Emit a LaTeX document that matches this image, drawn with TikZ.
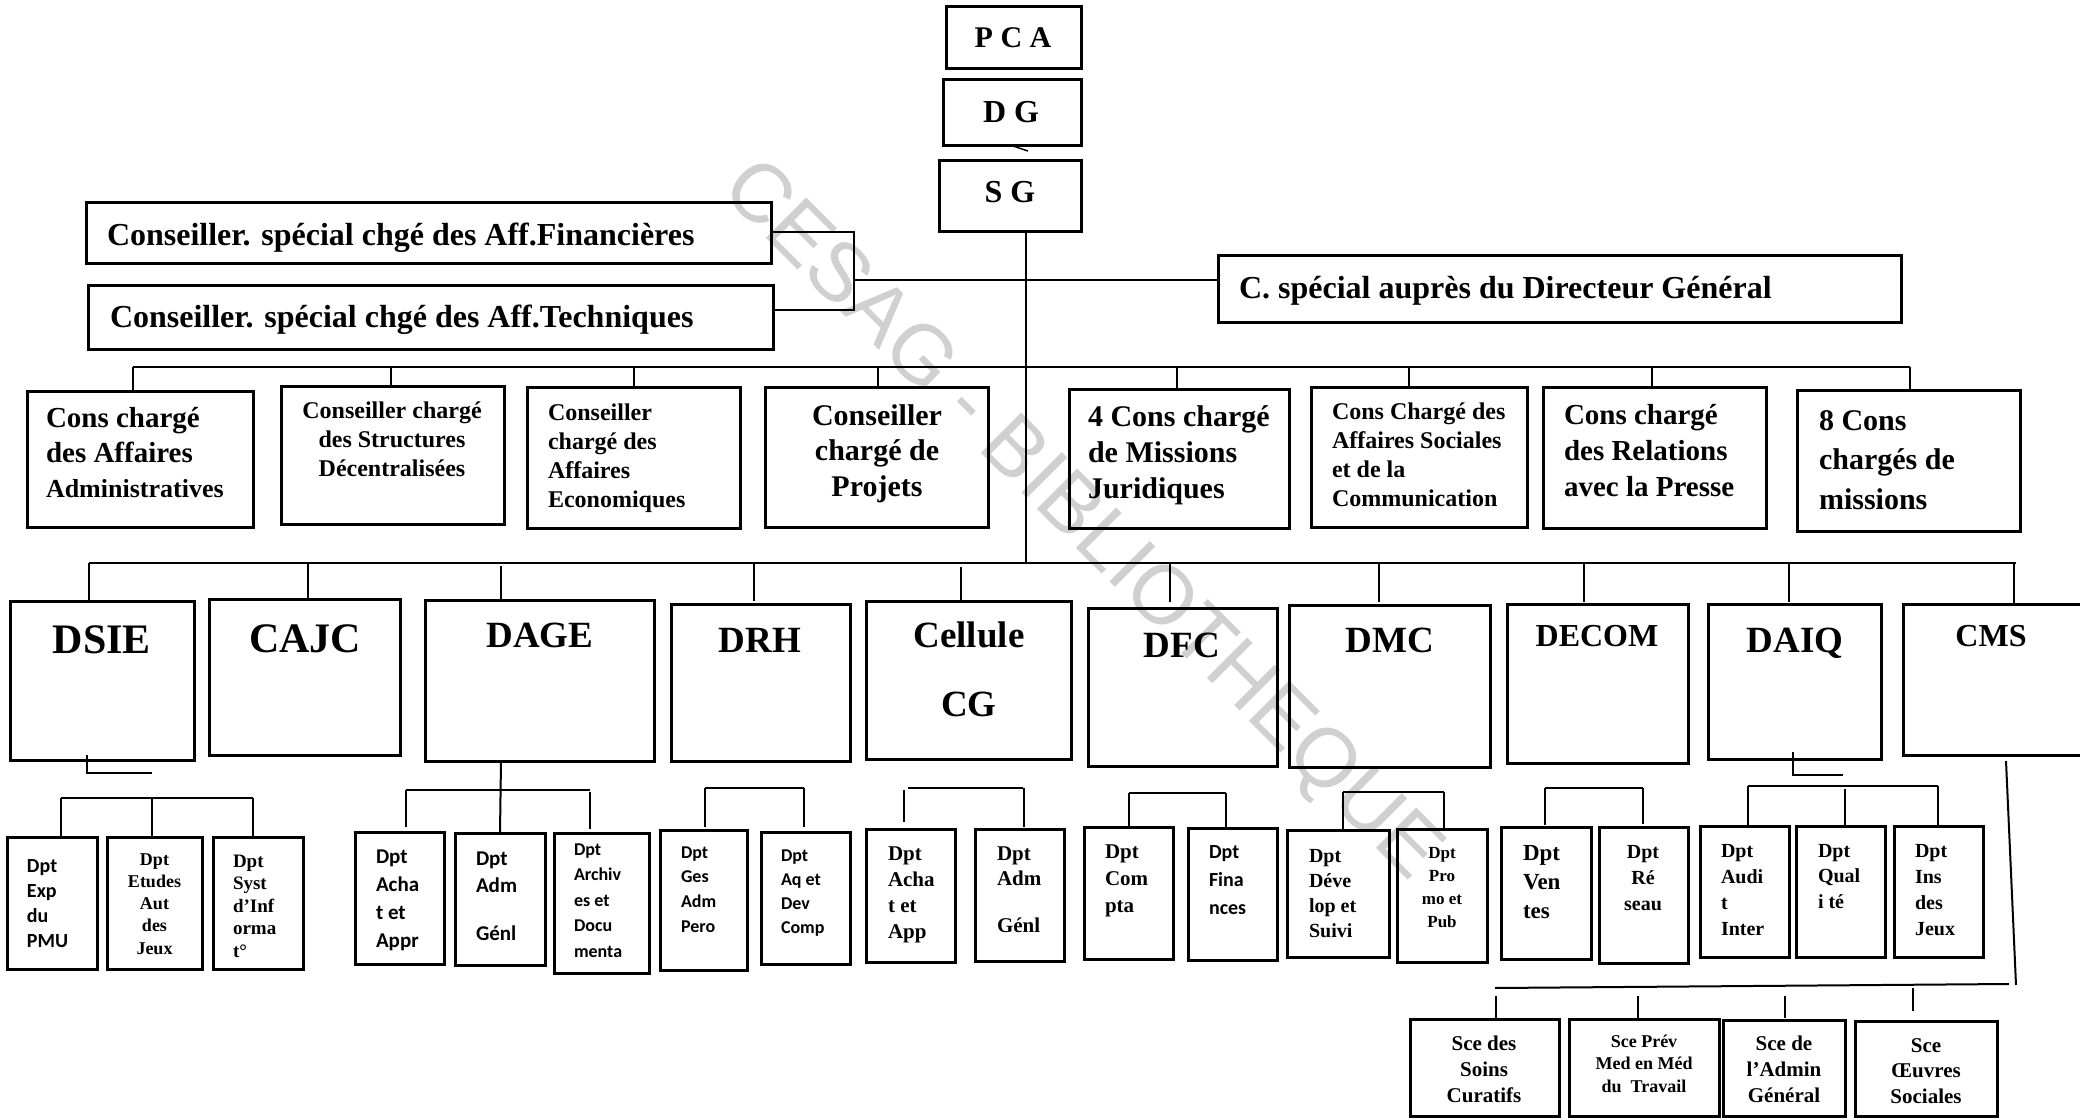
\documentclass[tikz,border=0pt]{standalone}
\usepackage{fontspec}
\setmainfont{Liberation Serif}
\newfontfamily\calib{Carlito}
\newfontfamily\wmfont{Liberation Sans}
\definecolor{wmgray}{RGB}{208,208,208}
\tikzset{
  box/.style={draw, line width=3pt, inner sep=0pt, outer sep=0pt},
  link/.style={line width=2pt},
  txt/.style={inner sep=0pt, outer sep=0pt, anchor=base west, font=\bfseries},
  sans/.style={font=\calib\bfseries},
}
% box: name, x1, y1, x2, y2 (y grows downwards)
\newcommand\bx[5]{\node[box, minimum width={(#4-#2)*1pt}, minimum height={(#5-#3)*1pt}] (#1) at ({(#2+#4)/2},{(#3+#5)/2}) {};}
% text block: [options]{name}{x}{first baseline}{size}{line pitch}{column}{lines}
\newcommand\tx[8][]{\node[txt,#1] (#2) at (#3,#4) {\fontsize{#5}{#6}\selectfont\begin{tabular}[t]{@{}#7@{}}#8\end{tabular}};}
% vertical drop from a named point onto the top of a box
\newcommand\drop[4][]{\coordinate (#2) at #3; \draw[link,#1] (#2) -- (#2 |- #4.north);}
\begin{document}
\begin{tikzpicture}[x=1pt,y=-1pt]
\useasboundingbox[fill=white] (0,0) rectangle (2080,1118);

% watermark
\node[rotate=-45, text=wmgray, inner sep=0pt, font={\wmfont\fontsize{83}{90}\selectfont}] (wm) at (1080,522) {CESAG - BIBLIOTHEQUE};

% ---- top of the hierarchy
\bx{pca}{946}{7}{1081}{69}
\bx{dg}{943}{80}{1081}{146}
\bx{sg}{939}{161}{1081}{232}
\tx[anchor=base]{tpca}{1013}{48}{30}{36}{c}{P C A}
\tx[anchor=base]{tdg}{1011}{123}{32}{38}{c}{D G}
\tx[anchor=base]{tsg}{1010}{203}{32}{38}{c}{S G}
\draw[line width=1.5pt] ([xshift=1pt]dg.south) -- ++(15,5);

\coordinate (spineTop) at (1026,232);
\coordinate (spineBot) at (1026,563);
\draw[link] (spineTop) -- (spineBot);

% ---- special advisers
\bx{cf}{86}{203}{771}{263}
\bx{ct}{88}{285}{773}{349}
\bx{cdg}{1218}{255}{1901}{322}
\tx{tcf}{107}{245}{32}{38}{l}{Conseiller. spécial chgé des Aff.Financières}
\tx{tct}{110}{327}{32}{38}{l}{Conseiller. spécial chgé des Aff.Techniques}
\tx{tcdg}{1239}{298}{32}{38}{l}{C. spécial auprès du Directeur Général}
\coordinate (brkA) at (773,232);
\coordinate (brkB) at (773,310);
\coordinate (brk) at (854,280);
\draw[link] (brkA) -| (brk) |- (brkB);
\draw[link] (brk) -- (brk -| cdg.west);

% ---- advisers row
\bx{c1}{27}{391}{253}{527}
\bx{c2}{281}{386}{504}{524}
\bx{c3}{527}{387}{740}{528}
\bx{c4}{765}{387}{988}{527}
\bx{c5}{1069}{389}{1289}{528}
\bx{c6}{1311}{387}{1527}{527}
\bx{c7}{1543}{387}{1766}{528}
\bx{c8}{1797}{390}{2020}{531}
\coordinate (cbusL) at (133,367);
\coordinate (cbusR) at (1910,367);
\draw[link] (cbusL) -- (cbusR);
\drop{c1in}{(133,367)}{c1}
\drop{c2in}{(391,367)}{c2}
\drop{c3in}{(634,367)}{c3}
\drop{c4in}{(878,367)}{c4}
\drop{c5in}{(1177,367)}{c5}
\drop{c6in}{(1409,367)}{c6}
\drop{c7in}{(1652,367)}{c7}
\drop{c8in}{(1910,367)}{c8}
\tx{tc1}{46}{427}{29}{35}{l}{Cons chargé\\des Affaires\\\fontsize{26}{35}\selectfont Administratives}
\tx[anchor=base]{tc2}{392}{418}{24}{29}{c}{Conseiller chargé\\des Structures\\Décentralisées}
\tx{tc3}{548}{420}{24}{29.3}{l}{Conseiller\\chargé des\\Affaires\\Economiques}
\tx[anchor=base]{tc4}{877}{425}{30}{35.5}{c}{Conseiller\\chargé de\\Projets}
\tx{tc5}{1088}{426}{30}{36}{l}{4 Cons chargé\\de Missions\\Juridiques}
\tx{tc6}{1332}{419}{24}{29.3}{l}{Cons Chargé des\\Affaires Sociales\\et de la\\Communication}
\tx{tc7}{1564}{424}{29}{36}{l}{Cons chargé\\des Relations\\avec la Presse}
\tx{tc8}{1819}{430}{30}{39.5}{l}{8 Cons\\chargés de\\missions}

% ---- directorates row
\bx{dsie}{10}{601}{194}{760}
\bx{cajc}{209}{599}{400}{755}
\bx{dage}{425}{600}{654}{761}
\bx{drh}{671}{604}{850}{761}
\bx{ccg}{866}{601}{1071}{759}
\bx{dfc}{1088}{608}{1277}{766}
\bx{dmc}{1289}{605}{1490}{767}
\bx{decom}{1507}{604}{1688}{763}
\bx{daiq}{1708}{604}{1881}{759}
\bx{cms}{1903}{604}{2084}{755}
\coordinate (dbusL) at (89,563);
\coordinate (dbusR) at (2016,563);
\draw[link] (dbusL) -- (dbusR);
\drop{dsiein}{(89,563)}{dsie}
\drop{cajcin}{(308,563)}{cajc}
\drop{dagein}{(501,566)}{dage}
\drop[shorten >=3pt]{drhin}{(754,563)}{drh}
\drop{ccgin}{(961,567)}{ccg}
\drop[shorten >=6pt]{dfcin}{(1170,563)}{dfc}
\drop[shorten >=3pt]{dmcin}{(1379,563)}{dmc}
\drop[shorten >=2pt]{decomin}{(1584,563)}{decom}
\drop[shorten >=2pt]{daiqin}{(1789,563)}{daiq}
\drop{cmsin}{(2014,563)}{cms}
\tx[anchor=base]{tdsie}{102}{653}{42}{50}{c}{DSIE}
\tx[anchor=base]{tcajc}{305}{652}{42}{50}{c}{CAJC}
\tx[anchor=base]{tdage}{540}{647}{37}{44}{c}{DAGE}
\tx[anchor=base]{tdrh}{760}{652}{37}{44}{c}{DRH}
\tx[anchor=base]{tccg}{969}{647}{37}{69}{c}{Cellule\\CG}
\tx[anchor=base]{tdfc}{1182}{657}{37}{44}{c}{DFC}
\tx[anchor=base]{tdmc}{1390}{652}{37}{44}{c}{DMC}
\tx[anchor=base]{tdecom}{1597}{646}{32}{38}{c}{DECOM}
\tx[anchor=base]{tdaiq}{1795}{652}{37}{44}{c}{DAIQ}
\tx[anchor=base]{tcms}{1991}{646}{32}{38}{c}{CMS}

% ---- DSIE departments
\bx{d11}{7}{837}{97}{969}
\bx{d12}{107}{837}{202}{969}
\bx{d13}{213}{837}{303}{969}
\coordinate (dsieStub) at (87,755);
\coordinate (dsieStubEnd) at (152,773);
\draw[link] (dsieStub) |- (dsieStubEnd);
\coordinate (b1L) at (61,798);
\coordinate (b1R) at (253,798);
\draw[link] (b1L) -- (b1R);
\drop{d11in}{(61,798)}{d11}
\drop{d12in}{(152,798)}{d12}
\drop{d13in}{(253,798)}{d13}
\tx[sans]{t11}{27}{872}{20}{25}{l}{Dpt\\Exp\\du\\PMU}
\tx[anchor=base]{t12}{154.5}{865}{18}{22.3}{c}{Dpt\\Etudes\\Aut\\des\\Jeux}
\tx{t13}{233}{867}{19}{22.5}{l}{Dpt\\Syst\\d’Inf\\orma\\t°}

% ---- DAGE departments
\bx{d21}{355}{832}{444}{964}
\bx{d22}{455}{833}{545}{965}
\bx{d23}{554}{833}{649}{973}
\coordinate (dageOut) at (501,761);
\draw[link] (dageOut) -- (d22.north);
\coordinate (b2L) at (406,790);
\coordinate (b2R) at (590,790);
\draw[link] (b2L) -- (b2R);
\drop[shorten >=5pt]{d21in}{(406,790)}{d21}
\drop[shorten >=4pt]{d23in}{(590,792)}{d23}
\tx[sans]{t21}{376}{863}{21}{28}{l}{Dpt\\Acha\\t et\\Appr}
\tx[sans]{t22}{476}{865}{21}{27}{l}{Dpt\\Adm\\[21pt]Génl}
\tx[sans]{t23}{574}{855}{18}{25.5}{l}{Dpt\\Archiv\\es et\\Docu\\menta}

% ---- DRH departments
\bx{d31}{660}{830}{747}{970}
\bx{d32}{761}{832}{850}{964}
\coordinate (b3L) at (705,788);
\coordinate (b3R) at (804,788);
\draw[link] (b3L) -- (b3R);
\drop[shorten >=3pt]{d31in}{(705,788)}{d31}
\drop[shorten >=5pt]{d32in}{(804,788)}{d32}
\tx[sans]{t31}{681}{858}{18}{24.7}{l}{Dpt\\Ges\\Adm\\Pero}
\tx[sans]{t32}{781}{861}{18}{24.3}{l}{Dpt\\Aq et\\Dev\\Comp}

% ---- Cellule CG departments
\bx{d41}{866}{829}{955}{962}
\bx{d42}{975}{829}{1064}{961}
\coordinate (b4L) at (908,788);
\coordinate (b4R) at (1023,788);
\draw[link] (b4L) -- (b4R);
\drop[shorten >=7pt]{d41in}{(904,790)}{d41}
\drop[shorten >=2pt]{d42in}{(1024,788)}{d42}
\tx{t41}{888}{860}{21}{26}{l}{Dpt\\Acha\\t et\\App}
\tx{t42}{997}{860}{21}{25}{l}{Dpt\\Adm\\[22pt]Génl}

% ---- DFC departments
\bx{d51}{1084}{827}{1173}{959}
\bx{d52}{1188}{828}{1277}{960}
\coordinate (b5L) at (1129,793);
\coordinate (b5R) at (1226,793);
\draw[link] (b5L) -- (b5R);
\drop{d51in}{(1129,793)}{d51}
\drop{d52in}{(1226,793)}{d52}
\tx{t51}{1105}{858}{21}{27}{l}{Dpt\\Com\\pta}
\tx[sans]{t52}{1209}{858}{20}{28}{l}{Dpt\\Fina\\nces}

% ---- DMC departments
\bx{d61}{1287}{830}{1389}{957}
\bx{d62}{1397}{829}{1487}{962}
\coordinate (b6L) at (1343,792);
\coordinate (b6R) at (1444,792);
\draw[link] (b6L) -- (b6R);
\drop{d61in}{(1343,792)}{d61}
\drop{d62in}{(1444,792)}{d62}
\tx{t61}{1309}{862}{20}{25.3}{l}{Dpt\\Déve\\lop et\\Suivi}
\tx[anchor=base]{t62}{1442}{858}{17}{23}{c}{Dpt\\Pro\\mo et\\Pub}

% ---- DECOM departments
\bx{d71}{1501}{827}{1591}{959}
\bx{d72}{1599}{827}{1688}{963}
\coordinate (b7L) at (1545,788);
\coordinate (b7R) at (1643,788);
\draw[link] (b7L) -- (b7R);
\drop[shorten >=2pt]{d71in}{(1545,788)}{d71}
\drop[shorten >=3pt]{d72in}{(1643,788)}{d72}
\tx{t71}{1523}{860}{23}{29}{l}{Dpt\\Ven\\tes}
\tx[anchor=base]{t72}{1643}{858}{20}{26}{c}{Dpt\\Ré\\seau}

% ---- DAIQ departments
\bx{d81}{1700}{826}{1789}{957}
\bx{d82}{1796}{826}{1885}{957}
\bx{d83}{1894}{826}{1983}{957}
\coordinate (daiqStub) at (1793,752);
\coordinate (daiqStubEnd) at (1843,775);
\draw[link] (daiqStub) |- (daiqStubEnd);
\coordinate (b8L) at (1748,786);
\coordinate (b8R) at (1938,786);
\draw[link] (b8L) -- (b8R);
\drop{d81in}{(1748,786)}{d81}
\drop{d82in}{(1845,789)}{d82}
\drop{d83in}{(1938,786)}{d83}
\tx{t81}{1721}{857}{20}{26}{l}{Dpt\\Audi\\t\\Inter}
\tx{t82}{1818}{857}{20}{25.5}{l}{Dpt\\Qual\\i té}
\tx{t83}{1915}{857}{20}{26}{l}{Dpt\\Ins\\des\\Jeux}

% ---- CMS services
\bx{e1}{1410}{1019}{1559}{1116}
\bx{e2}{1569}{1019}{1719}{1116}
\bx{e3}{1723}{1020}{1845}{1116}
\bx{e4}{1855}{1021}{1997}{1116}
\coordinate (cmsOut) at (2006,761);
\coordinate (cmsBusR) at (2016,985);
\draw[link] (cmsOut) -- (cmsBusR);
\coordinate (b9L) at (1495,988);
\coordinate (b9R) at (2009,984);
\draw[link] (b9L) -- (b9R);
\drop[shorten >=1pt]{e1in}{(1496,996)}{e1}
\drop[shorten >=1pt]{e2in}{(1638,996)}{e2}
\drop[shorten >=2pt]{e3in}{(1785,996)}{e3}
\drop[shorten >=10pt]{e4in}{(1913,988)}{e4}
\tx[anchor=base]{te1}{1484}{1050}{21}{26}{c}{Sce des\\Soins\\Curatifs}
\tx[anchor=base]{te2}{1644}{1047}{18}{22.5}{c}{Sce Prév\\Med en Méd\\du~ Travail}
\tx[anchor=base]{te3}{1784}{1050}{21}{26}{c}{Sce de\\l’Admin\\Général}
\tx[anchor=base]{te4}{1926}{1052}{21}{25.5}{c}{Sce\\Œuvres\\Sociales}
\end{tikzpicture}
\end{document}
